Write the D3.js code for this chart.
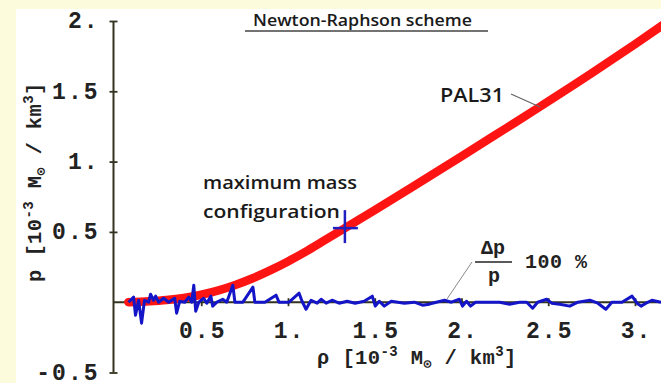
<!DOCTYPE html>
<html>
<head>
<meta charset="utf-8">
<script src="https://cdn.jsdelivr.net/npm/d3@7/dist/d3.min.js"></script>
<style>
  html, body { margin: 0; padding: 0; background: #fcfcdc; }
  svg { display: block; }
  .mono { font-family: "Liberation Mono", "DejaVu Sans Mono", monospace; font-weight: bold; fill: #222; }
  .hand { font-family: "Open Sans", "DejaVu Sans", sans-serif; font-weight: 600; fill: #1a1a1a; }
</style>
</head>
<body>
<svg id="chart" width="661" height="383"></svg>
<script>
// Equation of state PAL31: pressure vs. density
const eosRho = [0.08, 0.2, 0.3, 0.4, 0.5, 0.6, 0.7, 0.8, 0.9, 1.0, 1.1, 1.2, 1.328, 1.5, 1.75, 2.0, 2.25, 2.452, 2.75, 3.0, 3.2];
const eosP   = [0.0, 0.006, 0.015, 0.03, 0.053, 0.084, 0.124, 0.172, 0.228, 0.29, 0.358, 0.432, 0.527, 0.655, 0.845, 1.037, 1.232, 1.39, 1.628, 1.835, 2.005];

// Relative error of the Newton-Raphson solution, plotted on the same axes
const errRho = [0.081, 0.098, 0.110, 0.121, 0.139, 0.156, 0.173, 0.197, 0.208, 0.225, 0.237, 0.254, 0.283, 0.312,
  0.347, 0.358, 0.376, 0.405, 0.428, 0.445, 0.457, 0.468, 0.486, 0.514, 0.532, 0.555, 0.566, 0.590, 0.624, 0.647,
  0.682, 0.694, 0.740, 0.798, 0.809, 0.867, 0.931, 0.948, 1.006, 1.064, 1.081, 1.104, 1.133, 1.168, 1.191, 1.220,
  1.254, 1.295, 1.341, 1.387, 1.439, 1.486, 1.503, 1.526, 1.555, 1.595, 1.671, 1.728, 1.775, 1.815, 1.855, 1.902,
  1.942, 1.988, 2.006, 2.029, 2.052, 2.081, 2.162, 2.220, 2.277, 2.335, 2.376, 2.410, 2.439, 2.491, 2.520, 2.566,
  2.624, 2.671, 2.740, 2.786, 2.832, 2.867, 2.925, 2.983, 3.012, 3.035, 3.064, 3.098, 3.150];
const errVal = [0, 0.021, 0.036, -0.093, 0.014, -0.149, 0.014, 0, 0.057, 0.014, 0.043, 0, 0.028, 0,
  0.028, -0.078, 0.007, 0, 0.036, 0, 0.121, -0.064, 0, 0.028, -0.007, 0.043, -0.028, 0, 0.021, 0,
  0.121, 0, 0, 0.107, 0, 0, 0.050, 0, 0, 0.064, 0.007, -0.050, 0.014, -0.007, 0.021, -0.007,
  0.014, -0.007, 0.007, -0.007, 0.007, 0.043, -0.028, 0.007, -0.028, 0.007, -0.007, 0, -0.021, -0.014, 0, 0.014,
  0, 0.021, -0.028, 0.007, -0.028, 0, 0, 0, -0.014, 0, 0, -0.043, 0, 0.021, -0.007, -0.014,
  -0.028, 0, 0.014, -0.007, -0.050, 0, 0, 0.043, -0.007, -0.028, -0.007, 0.014, 0];

// Maximum mass configuration on the EOS curve
const maxMassRho = 1.328;
const maxMassP = 0.527;

const xTicks = [0.5, 1, 1.5, 2, 2.5, 3];
const xTickLabels = ["0.5", "1.", "1.5", "2.", "2.5", "3."];
const yTicks = [-0.5, 0.5, 1, 1.5, 2];
const yTickLabels = ["-0.5", "0.5", "1.", "1.5", "2."];

const svg = d3.select("#chart");

// white drawing panel on the slide background
svg.append("rect").attr("x", 16).attr("y", 9).attr("width", 661 - 16).attr("height", 383 - 9).attr("fill", "#ffffff");

const x = d3.scaleLinear().domain([0, 3.15]).range([114.5, 661]);
const y = d3.scaleLinear().domain([-0.5, 2]).range([372.5, 21]);

const axisColor = "#33331f";

// x axis
const xAxis = d3.axisBottom(x).tickValues(xTicks)
  .tickFormat((d, i) => xTickLabels[i]).tickSize(3).tickPadding(22);
const gx = svg.append("g").attr("transform", `translate(0,${y(0)})`).call(xAxis);
gx.select(".domain").remove();
gx.append("line").attr("x1", x(0) - 1).attr("x2", 661).attr("y1", 0).attr("y2", 0)
  .attr("stroke", axisColor).attr("stroke-width", 2);
gx.selectAll(".tick line").attr("y1", -4).attr("y2", 4).attr("stroke", axisColor).attr("stroke-width", 1.8);
gx.selectAll(".tick text").attr("class", "mono").attr("font-size", 23).attr("letter-spacing", 2)
  .attr("dx", 1).attr("dy", "0.45em");

// y axis
const yAxis = d3.axisLeft(y).tickValues(yTicks)
  .tickFormat((d, i) => yTickLabels[i]).tickSize(3).tickPadding(11);
const gy = svg.append("g").attr("transform", `translate(${x(0) - 1},0)`).call(yAxis);
gy.select(".domain").remove();
gy.append("line").attr("x1", 0).attr("x2", 0).attr("y1", y(2)).attr("y2", y(-0.5))
  .attr("stroke", axisColor).attr("stroke-width", 2);
gy.selectAll(".tick line").attr("x1", -4).attr("x2", 4).attr("stroke", axisColor).attr("stroke-width", 1.8);
gy.selectAll(".tick text").attr("class", "mono").attr("font-size", 23).attr("letter-spacing", 2)
  .attr("dy", "0.3em");

// EOS curve
const eosData = eosRho.map((r, i) => [r, eosP[i]]);
svg.append("path").datum(eosData)
  .attr("d", d3.line().x(d => x(d[0])).y(d => y(d[1])).curve(d3.curveMonotoneX))
  .attr("fill", "none").attr("stroke", "#ff1414").attr("stroke-width", 8.5)
  .attr("stroke-linecap", "round");

// relative error curve
const errData = errRho.map((r, i) => [r, errVal[i]]);
svg.append("path").datum(errData)
  .attr("d", d3.line().x(d => x(d[0])).y(d => y(d[1])))
  .attr("fill", "none").attr("stroke", "#1515c8").attr("stroke-width", 3)
  .attr("stroke-linejoin", "round");

// maximum mass marker
const mx = x(maxMassRho), my = y(maxMassP);
svg.append("line").attr("x1", mx - 12).attr("x2", mx + 13).attr("y1", my).attr("y2", my)
  .attr("stroke", "#2020c0").attr("stroke-width", 2.5);
svg.append("line").attr("x1", mx).attr("x2", mx).attr("y1", my - 18).attr("y2", my + 15)
  .attr("stroke", "#2020c0").attr("stroke-width", 2.5);

// annotations
svg.append("text").attr("class", "hand").attr("x", 253).attr("y", 26).attr("font-size", 16)
  .attr("textLength", 219).attr("lengthAdjust", "spacingAndGlyphs")
  .text("Newton-Raphson scheme");
svg.append("line").attr("x1", 245).attr("x2", 488).attr("y1", 31).attr("y2", 31)
  .attr("stroke", "#444", ).attr("stroke-width", 1.3);

svg.append("text").attr("class", "hand").attr("x", 440).attr("y", 102).attr("font-size", 20)
  .attr("textLength", 64).attr("lengthAdjust", "spacingAndGlyphs").text("PAL31");
svg.append("line").attr("x1", 511).attr("y1", 94).attr("x2", 540).attr("y2", 107)
  .attr("stroke", "#666", ).attr("stroke-width", 1.3);

svg.append("text").attr("class", "hand").attr("x", 203).attr("y", 189).attr("font-size", 18)
  .attr("textLength", 154).attr("lengthAdjust", "spacingAndGlyphs").text("maximum mass");
svg.append("text").attr("class", "hand").attr("x", 203).attr("y", 218).attr("font-size", 18)
  .attr("textLength", 137).attr("lengthAdjust", "spacingAndGlyphs").text("configuration");

// Δp / p 100 % label
svg.append("text").attr("class", "mono").attr("x", 493).attr("y", 254).attr("font-size", 20)
  .attr("text-anchor", "middle").text("Δp");
svg.append("line").attr("x1", 475).attr("x2", 512).attr("y1", 262).attr("y2", 262)
  .attr("stroke", "#222").attr("stroke-width", 1.6);
svg.append("text").attr("class", "mono").attr("x", 494).attr("y", 282).attr("font-size", 20)
  .attr("text-anchor", "middle").text("p");
svg.append("text").attr("class", "mono").attr("x", 525).attr("y", 268).attr("font-size", 20)
  .attr("letter-spacing", 0.5).text("100 %");
svg.append("line").attr("x1", 472).attr("y1", 262).attr("x2", 447).attr("y2", 299)
  .attr("stroke", "#888").attr("stroke-width", 1);

// axis titles
function unitLabel(sel, sym) {
  sel.append("tspan").text(sym + " [10");
  sel.append("tspan").attr("dy", -8).attr("font-size", 14).text("-3");
  sel.append("tspan").attr("dy", 8).text(" M");
  sel.append("tspan").attr("dy", 4).attr("font-size", 13).text("⊙");
  sel.append("tspan").attr("dy", -4).text(" / km");
  sel.append("tspan").attr("dy", -8).attr("font-size", 14).text("3");
  sel.append("tspan").attr("dy", 8).text("]");
}
const xt = svg.append("text").attr("class", "mono").attr("x", 317).attr("y", 364)
  .attr("font-size", 20.5).attr("letter-spacing", 0.4);
unitLabel(xt, "ρ");
const yt = svg.append("text").attr("class", "mono")
  .attr("transform", "translate(41,282) rotate(-90)")
  .attr("font-size", 20.5).attr("letter-spacing", 0.4);
unitLabel(yt, "p");
</script>
</body>
</html>
